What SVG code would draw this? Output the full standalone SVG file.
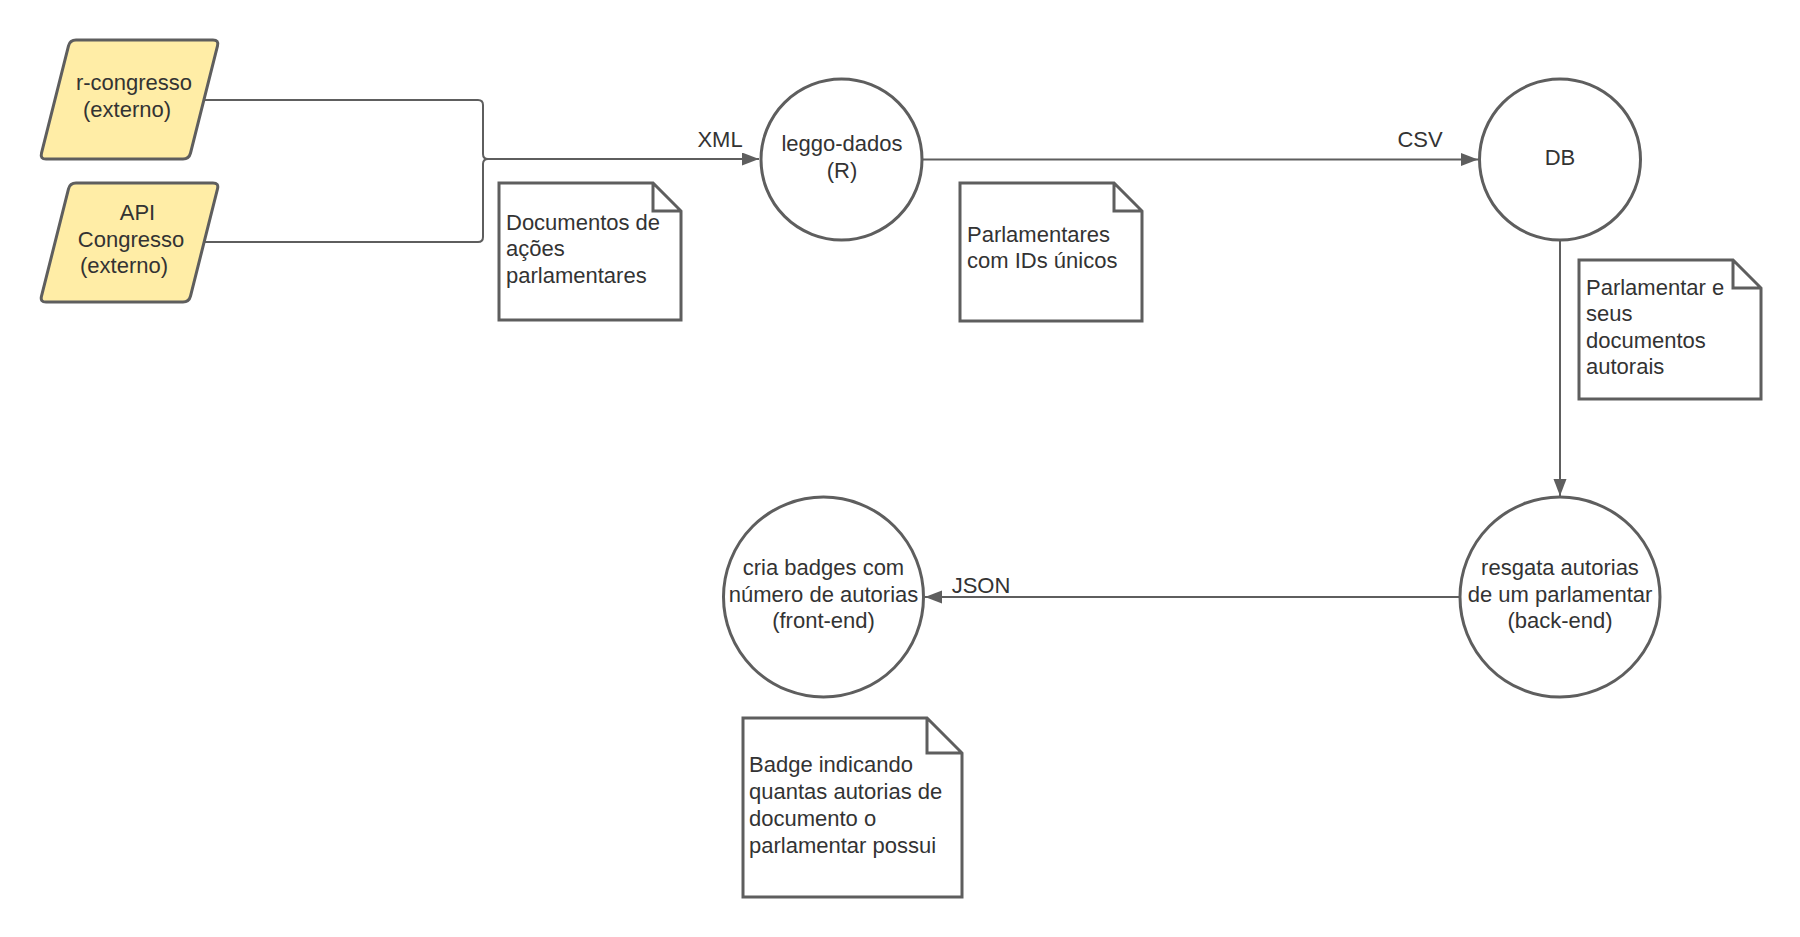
<svg xmlns="http://www.w3.org/2000/svg" width="1800" height="937" viewBox="0 0 1800 937">
<style>
.para{fill:#ffeda6;stroke:#5e5e5e;stroke-width:3;stroke-linejoin:round}
.circ{fill:#ffffff;stroke:#5e5e5e;stroke-width:3}
.note{fill:#ffffff;stroke:#5e5e5e;stroke-width:3;stroke-linejoin:miter}
.conn{fill:none;stroke:#5e5e5e;stroke-width:2}
text{font-family:"Liberation Sans",Arial,sans-serif;font-size:22px;fill:#333333}
.c{text-anchor:middle}
</style>
<defs>
<marker id="arr" markerUnits="userSpaceOnUse" markerWidth="18" markerHeight="14" refX="17" refY="6.5" orient="auto">
<path d="M0,0 L17,6.5 L0,13 Z" fill="#5e5e5e"/>
</marker>
</defs>
<rect width="1800" height="937" fill="#ffffff"/>
<g id="connectors">
<path class="conn" d="M205,100 H478 Q483,100 483,105 V154 Q483,159 488,159 H759" marker-end="url(#arr)"/>
<path class="conn" d="M205,242 H478 Q483,242 483,237 V164 Q483,159 488,159"/>
<path class="conn" d="M922,159.5 H1478" marker-end="url(#arr)"/>
<path class="conn" d="M1560,240 V496" marker-end="url(#arr)"/>
<path class="conn" d="M1459,597 H925" marker-end="url(#arr)"/>
<text class="c" x="720" y="147">XML</text>
<text class="c" x="1420" y="147">CSV</text>
<text class="c" x="981" y="593">JSON</text>
</g>
<g id="r-congresso">
<path class="para" d="M76,40 H213 Q219,40 217.5,45.8 L190.5,153.2 Q189,159 183,159 H46 Q40,159 41.5,153.2 L68.5,45.8 Q70,40 76,40 Z"/>
<text class="c" x="134" y="90">r-congresso</text>
<text class="c" x="127" y="117">(externo)</text>
</g>
<g id="api-congresso">
<path class="para" d="M76,183 H213 Q219,183 217.5,188.8 L190.5,296.2 Q189,302 183,302 H46 Q40,302 41.5,296.2 L68.5,188.8 Q70,183 76,183 Z"/>
<text class="c" x="137.5" y="220">API</text>
<text class="c" x="131" y="247">Congresso</text>
<text class="c" x="124" y="273">(externo)</text>
</g>
<g id="note-documentos">
<path class="note" d="M499,183 H653 L681,211 V320 H499 Z M653,183 V211 H681"/>
<text x="506" y="230">Documentos de</text>
<text x="506" y="256">ações</text>
<text x="506" y="283">parlamentares</text>
</g>
<g id="leggo-dados">
<circle class="circ" cx="841.5" cy="159.5" r="80.5"/>
<text class="c" x="842" y="151">leggo-dados</text>
<text class="c" x="842" y="178">(R)</text>
</g>
<g id="note-parlamentares">
<path class="note" d="M960,183 H1114 L1142,211 V321 H960 Z M1114,183 V211 H1142"/>
<text x="967" y="242">Parlamentares</text>
<text x="967" y="268">com IDs únicos</text>
</g>
<g id="db">
<circle class="circ" cx="1560" cy="159.5" r="80.5"/>
<text class="c" x="1560" y="165">DB</text>
</g>
<g id="note-parlamentar">
<path class="note" d="M1579,260 H1733 L1761,288 V399 H1579 Z M1733,260 V288 H1761"/>
<text x="1586" y="295">Parlamentar e</text>
<text x="1586" y="321">seus</text>
<text x="1586" y="348">documentos</text>
<text x="1586" y="374">autorais</text>
</g>
<g id="resgata">
<circle class="circ" cx="1560" cy="597" r="100"/>
<text class="c" x="1560" y="575">resgata autorias</text>
<text class="c" x="1560" y="602">de um parlamentar</text>
<text class="c" x="1560" y="628">(back-end)</text>
</g>
<g id="cria-badges">
<circle class="circ" cx="823.5" cy="597" r="100"/>
<text class="c" x="823.5" y="575">cria badges com</text>
<text class="c" x="823.5" y="602">número de autorias</text>
<text class="c" x="823.5" y="628">(front-end)</text>
</g>
<g id="note-badge">
<path class="note" d="M743,718 H927 L962,753 V897 H743 Z M927,718 V753 H962"/>
<text x="749" y="772">Badge indicando</text>
<text x="749" y="799">quantas autorias de</text>
<text x="749" y="826">documento o</text>
<text x="749" y="853">parlamentar possui</text>
</g>
</svg>
